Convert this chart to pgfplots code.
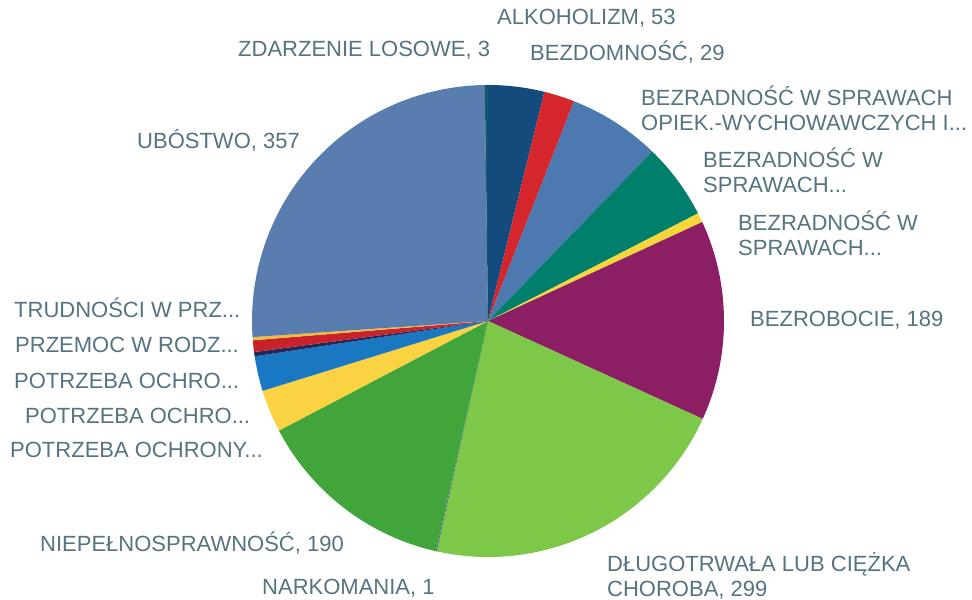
\documentclass[border=0pt]{standalone}
\usepackage{fontspec}
\setmainfont{Liberation Sans}
\usepackage{pgfplots}
\usepackage{pgfplotstable}
\pgfplotsset{compat=1.18}

\definecolor{cA}{RGB}{20,75,125}
\definecolor{cB}{RGB}{212,38,44}
\definecolor{cC}{RGB}{76,121,176}
\definecolor{cD}{RGB}{0,128,108}
\definecolor{cE}{RGB}{245,215,60}
\definecolor{cF}{RGB}{140,30,100}
\definecolor{cG}{RGB}{125,200,72}
\definecolor{cH}{RGB}{90,110,140}
\definecolor{cI}{RGB}{66,165,60}
\definecolor{cJ}{RGB}{250,210,66}
\definecolor{cK}{RGB}{26,120,195}
\definecolor{cL}{RGB}{30,40,90}
\definecolor{cM}{RGB}{200,35,45}
\definecolor{cN}{RGB}{240,190,60}
\definecolor{cO}{RGB}{90,125,175}
\definecolor{cP}{RGB}{20,85,110}
\definecolor{lbl}{RGB}{85,115,128}

% kategorie w kolejnosci alfabetycznej (zgodnie z ruchem wskazowek zegara)
\pgfplotstableread{
value color
53  cA
29  cB
87  cC
72  cD
9   cE
189 cF
299 cG
1   cH
190 cI
40  cJ
33  cK
4   cL
11  cM
3   cN
357 cO
3   cP
}\pie

\begin{document}
\begin{tikzpicture}
\begin{axis}[
  hide axis, scale only axis,
  width=972bp, height=600bp,
  xmin=0, xmax=972, ymin=0, ymax=600,
  clip=false,
]
\path (rel axis cs:0,0) rectangle (rel axis cs:1,1);
\pgfplotstablegetrowsof{\pie}\pgfmathtruncatemacro\nrows{\pgfplotsretval-1}
\def\total{0}
\pgfplotsforeachungrouped \i in {0,...,\nrows}{%
  \pgfplotstablegetelem{\i}{value}\of\pie
  \pgfmathsetmacro\total{\total+\pgfplotsretval}}
\def\cum{0}
\pgfplotsforeachungrouped \i in {0,...,\nrows}{%
  \pgfplotstablegetelem{\i}{value}\of\pie\let\v\pgfplotsretval
  \pgfplotstablegetelem{\i}{color}\of\pie\let\c\pgfplotsretval
  \pgfmathsetmacro\sa{90-(\cum/\total)*360}
  \pgfmathsetmacro\cum{\cum+\v}
  \pgfmathsetmacro\ea{90-(\cum/\total)*360}
  \edef\temp{\noexpand\fill[\c] (axis cs:488,279) -- ++(\sa:236bp)
    arc[start angle=\sa, end angle=\ea, radius=236bp] -- cycle;}
  \temp}

\begin{scope}[every node/.style={font=\fontsize{22bp}{25bp}\selectfont, text=lbl, inner sep=0pt, align=left}]
\node[anchor=west] at (axis cs:497,582) {ALKOHOLIZM, 53};
\node[anchor=west] at (axis cs:238,550) {ZDARZENIE LOSOWE, 3};
\node[anchor=west] at (axis cs:530,548) {BEZDOMNOŚĆ, 29};
\node[anchor=west] at (axis cs:641,492) {BEZRADNOŚĆ W SPRAWACH\\OPIEK.-WYCHOWAWCZYCH I...};
\node[anchor=west] at (axis cs:703,430) {BEZRADNOŚĆ W\\SPRAWACH...};
\node[anchor=west] at (axis cs:738,367) {BEZRADNOŚĆ W\\SPRAWACH...};
\node[anchor=west] at (axis cs:750,280) {BEZROBOCIE, 189};
\node[anchor=west] at (axis cs:607,24) {DŁUGOTRWAŁA LUB CIĘŻKA\\CHOROBA, 299};
\node[anchor=west] at (axis cs:262,12) {NARKOMANIA, 1};
\node[anchor=west] at (axis cs:40,57) {NIEPEŁNOSPRAWNOŚĆ, 190};
\node[anchor=west] at (axis cs:10,150) {POTRZEBA OCHRONY...};
\node[anchor=west] at (axis cs:25,184) {POTRZEBA OCHRO...};
\node[anchor=west] at (axis cs:14,219) {POTRZEBA OCHRO...};
\node[anchor=west] at (axis cs:15,255) {PRZEMOC W RODZ...};
\node[anchor=west] at (axis cs:14,292) {TRUDNOŚCI W PRZ...};
\node[anchor=west] at (axis cs:137,460) {UBÓSTWO, 357};
\end{scope}
\end{axis}
\end{tikzpicture}
\end{document}
